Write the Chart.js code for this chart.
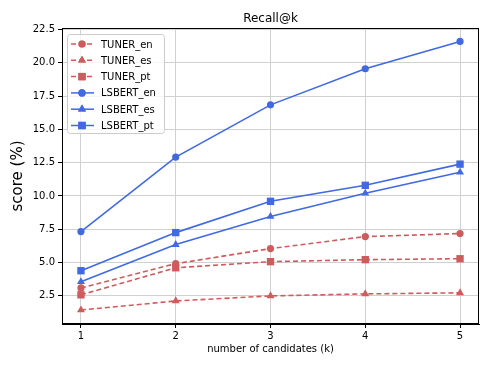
<!DOCTYPE html>
<html>
<head>
<meta charset="utf-8">
<script src="https://cdn.jsdelivr.net/npm/chart.js@4"></script>
<style>
  html, body { margin: 0; padding: 0; background: #fff; }
  #wrap { width: 490px; height: 368px; }
</style>
</head>
<body>
<div id="wrap"><canvas id="chart" width="490" height="368"></canvas></div>
<script>
// values
const kValues = [1, 2, 3, 4, 5];
const tunerEn = [3.1, 4.92, 6.05, 6.95, 7.18];
const tunerEs = [1.44, 2.12, 2.5, 2.65, 2.73];
const tunerPt = [2.58, 4.61, 5.07, 5.22, 5.29];
const lsbertEn = [7.33, 12.92, 16.84, 19.55, 21.6];
const lsbertEs = [3.56, 6.35, 8.46, 10.2, 11.78];
const lsbertPt = [4.39, 7.25, 9.6, 10.8, 12.39];
const yTicks = [2.5, 5, 7.5, 10, 12.5, 15, 17.5, 20, 22.5];
const xTicks = [1, 2, 3, 4, 5];

const RED = '#cd5c5c';
const BLUE = '#4169e1';
const FONT = 'DejaVu Sans';
// marker radius per style so they look the same size as matplotlib's
const markerSize = { circle: 3.6, triangle: 4.6, rect: 5.2 };

function pts(vals) {
    return kValues.map((k, i) => ({ x: k, y: vals[i] }));
}

const series = [
    { label: 'TUNER_en', data: tunerEn, color: RED, style: 'circle', dash: [5, 3] },
    { label: 'TUNER_es', data: tunerEs, color: RED, style: 'triangle', dash: [5, 3] },
    { label: 'TUNER_pt', data: tunerPt, color: RED, style: 'rect', dash: [5, 3] },
    { label: 'LSBERT_en', data: lsbertEn, color: BLUE, style: 'circle', dash: [] },
    { label: 'LSBERT_es', data: lsbertEs, color: BLUE, style: 'triangle', dash: [] },
    { label: 'LSBERT_pt', data: lsbertPt, color: BLUE, style: 'rect', dash: [] }
];

// title, full frame and legend box drawn like matplotlib does
const extras = {
    id: 'extras',
    afterDatasetsDraw(chart) {
        const { ctx, chartArea: a } = chart;
        ctx.save();
        ctx.strokeStyle = '#000';
        ctx.lineWidth = 1;
        ctx.strokeRect(a.left + 0.5, a.top + 0.5, a.right - a.left - 1, a.bottom - a.top - 1);

        ctx.fillStyle = '#000';
        ctx.font = '12px ' + FONT;
        ctx.textAlign = 'center';
        ctx.textBaseline = 'alphabetic';
        ctx.fillText('Recall@k', (a.left + a.right) / 2, 22);

        // legend
        const bx = a.left + 5, by = a.top + 6, bw = 97, bh = 99;
        ctx.beginPath();
        ctx.roundRect(bx + 0.5, by + 0.5, bw, bh, 3);
        ctx.fillStyle = 'rgba(255,255,255,0.8)';
        ctx.fill();
        ctx.strokeStyle = '#cccccc';
        ctx.stroke();
        ctx.font = '10px ' + FONT;
        ctx.textAlign = 'left';
        ctx.textBaseline = 'middle';
        series.forEach((s, i) => {
            const y = by + 10 + i * 16.3;
            ctx.strokeStyle = s.color;
            ctx.lineWidth = 1.5;
            ctx.setLineDash(s.dash);
            ctx.beginPath();
            ctx.moveTo(bx + 4, y);
            ctx.lineTo(bx + 27, y);
            ctx.stroke();
            ctx.setLineDash([]);
            ctx.fillStyle = s.color;
            Chart.helpers.drawPoint(ctx, { pointStyle: s.style, radius: markerSize[s.style], borderWidth: 0 }, bx + 15, y);
            ctx.fill();
            ctx.fillStyle = '#000';
            ctx.fillText(s.label, bx + 34, y + 1);
        });
        ctx.restore();
    }
};

new Chart(document.getElementById('chart'), {
    type: 'line',
    data: {
        datasets: series.map(s => ({
            label: s.label,
            data: pts(s.data),
            borderColor: s.color,
            backgroundColor: s.color,
            borderWidth: 1.6,
            borderDash: s.dash,
            pointStyle: s.style,
            pointRadius: markerSize[s.style],
            pointBorderWidth: 0,
            tension: 0
        }))
    },
    options: {
        responsive: false,
        animation: false,
        layout: { padding: { top: 28, right: 11, bottom: 0, left: 9 } },
        plugins: { legend: { display: false }, title: { display: false }, tooltip: { enabled: false } },
        scales: {
            x: {
                type: 'linear',
                min: 0.8,
                max: 5.2,
                afterBuildTicks: s => { s.ticks = xTicks.map(v => ({ value: v })); },
                afterFit: s => { s.height = 44; },
                ticks: { color: '#000', font: { family: FONT, size: 10 }, padding: 2, maxRotation: 0,
                         callback: v => String(v) },
                grid: { color: '#d0d0d0', lineWidth: 1, tickColor: '#000', tickLength: 4 },
                border: { color: '#000' },
                title: { display: true, text: 'number of candidates (k)', color: '#000',
                         font: { family: FONT, size: 10 }, padding: { top: 0, bottom: 13 } }
            },
            y: {
                min: 0.39,
                max: 22.61,
                afterBuildTicks: s => { s.ticks = yTicks.map(v => ({ value: v })); },
                afterFit: s => { s.width = 53; },
                ticks: { color: '#000', font: { family: FONT, size: 10 }, padding: 3,
                         callback: v => v.toFixed(1) },
                grid: { color: '#d0d0d0', lineWidth: 1, tickColor: '#000', tickLength: 4 },
                border: { color: '#000' },
                title: { display: true, text: 'score (%)', color: '#000',
                         font: { family: FONT, size: 15 }, padding: { top: 0, bottom: 4 } }
            }
        }
    },
    plugins: [extras]
});
</script>
</body>
</html>
